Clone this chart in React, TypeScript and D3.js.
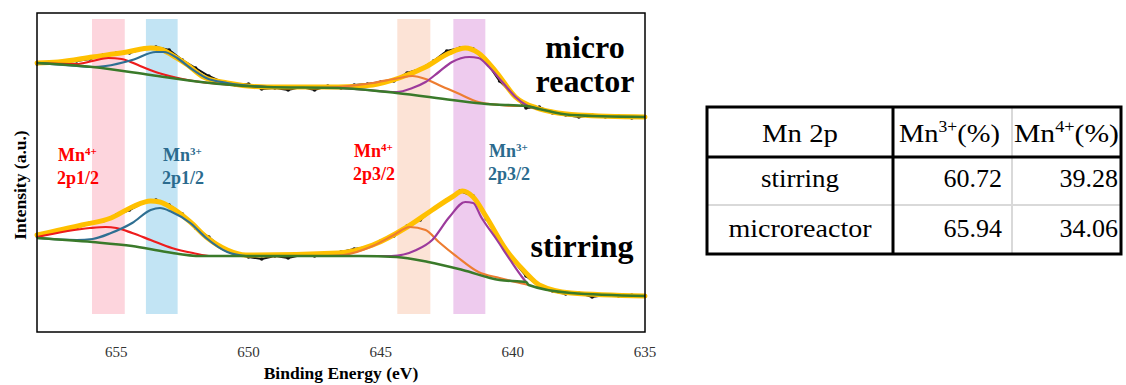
import React, { useRef, useEffect } from 'react';
import * as d3 from 'd3';

type Pt = [number, number]; // [binding energy (eV), intensity (a.u.)]

// ---- data ----
const energyTicks = [655, 650, 645, 640, 635];

// highlighted peak positions [from eV, to eV]
const bandRanges: Pt[] = [[655.92, 654.68], [653.88, 652.68], [644.37, 643.12], [642.25, 641.04]];

// micro reactor spectrum (upper)
const microRaw: Pt[] = [[658, 268], [657.5, 270], [657, 270], [656.5, 271], [656, 273], [655.5, 277], [655, 279], [654.5, 279], [654, 283], [653.5, 285], [653, 282], [652.5, 272], [652, 264], [651.5, 256], [651, 250], [650.5, 247], [650, 248], [649.5, 243], [649, 244], [648.5, 242], [648, 245], [647.5, 242], [647, 246], [646.5, 244], [646, 247], [645.5, 248], [645, 250], [644.5, 251], [644, 259], [643.5, 263], [643, 271], [642.5, 281], [642, 284], [641.5, 283], [641, 270], [640.5, 251], [640, 238], [639.5, 224], [639, 225], [638.5, 219], [638, 217], [637.5, 215], [637, 217], [636.5, 215], [636, 216], [635.5, 214], [635, 215]];
const microFit: Pt[] = [[658, 269], [657.2, 270], [655.9, 275], [654.6, 280], [653.7, 284], [653.35, 283], [652.9, 277], [652.3, 267], [651.7, 255], [650.8, 249], [649.3, 245], [646.6, 245], [645.3, 247], [644.3, 254], [643.3, 265], [642.4, 279], [641.8, 284], [641.3, 279], [640.6, 259], [639.9, 235], [639.1, 224], [638.5, 220], [637.5, 217], [635, 215]];
const microBg: Pt[] = [[658, 269], [655.9, 265], [653.7, 257], [651.8, 250], [650.6, 247], [649.3, 245], [646.6, 244], [644.4, 239], [642.3, 232], [641.0, 228], [639.5, 226], [639.0, 223], [637.8, 217], [635, 215]];
const microMn4p1: Pt[] = [[658, 269], [656.5, 268], [655.9, 271], [655.3, 274], [654.8, 273], [654.1, 266], [653.4, 259], [652.5, 253], [651.8, 250], [650.6, 247], [649.3, 245]];
const microMn3p1: Pt[] = [[658, 269], [656.5, 266], [655.9, 265], [655.4, 266], [654.4, 272], [653.5, 280], [653.2, 280], [652.7, 274], [652.2, 264], [651.6, 254], [650.8, 249], [649.3, 245]];
const microMn4p3: Pt[] = [[647.5, 244], [646.6, 245], [645.3, 249], [644.3, 254], [643.8, 256], [643.3, 253], [642.8, 247], [642.1, 239], [641.3, 230], [640.5, 227], [639.8, 226], [639.5, 226]];
const microMn3p3: Pt[] = [[646.5, 244], [645.5, 242], [644.4, 240], [643.8, 244], [643.3, 250], [642.8, 260], [642.3, 270], [641.65, 275], [641.3, 274], [640.9, 265], [640.4, 250], [639.9, 235], [639.5, 227], [639.0, 223]];

// stirring spectrum (lower)
const stirRaw: Pt[] = [[658, 96], [657.5, 99], [657, 103], [656.5, 104], [656, 109], [655.5, 111], [655, 117], [654.5, 122], [654, 129], [653.5, 132], [653, 127], [652.5, 118], [652, 104], [651.5, 95], [651, 84], [650.5, 78], [650, 75], [649.5, 73], [649, 76], [648.5, 74], [648, 77], [647.5, 76], [647, 78], [646.5, 80], [646, 83], [645.5, 85], [645, 91], [644.5, 96], [644, 106], [643.5, 112], [643, 123], [642.5, 132], [642, 141], [641.5, 136], [641, 113], [640.5, 92], [640, 72], [639.5, 56], [639, 46], [638.5, 41], [638, 38], [637.5, 39], [637, 35], [636.5, 37], [636, 36], [635.5, 37], [635, 36]];
const stirFit: Pt[] = [[658, 97], [656.3, 107], [655.2, 114], [654.4, 125], [653.7, 131], [653.35, 130], [652.9, 124], [652.2, 110], [651.6, 95], [650.8, 82], [650.1, 77], [646.6, 79], [645.3, 87], [644.0, 105], [643.05, 122], [642.3, 135], [641.9, 141], [641.5, 135], [641.0, 115], [640.25, 82], [639.5, 59], [639.0, 47], [637.8, 39], [635, 36]];
const stirBg: Pt[] = [[658, 94], [655.9, 90], [654.4, 86], [653.1, 80], [651.8, 76], [650.6, 76], [645.8, 76], [644.4, 75], [643.2, 70], [641.9, 62], [640.5, 52], [639.5, 50], [639.4, 47], [637.8, 39], [635, 36]];
const stirMn4p1: Pt[] = [[658, 95], [656.0, 104], [655.4, 105], [655.0, 104], [654.4, 99], [653.7, 92], [652.9, 84], [652.1, 79], [651.4, 76], [650.6, 76]];
const stirMn3p1: Pt[] = [[658, 94], [656.5, 92], [655.9, 93], [655.2, 99], [654.4, 109], [653.7, 122], [653.35, 124], [652.9, 120], [652.2, 109], [651.6, 94], [650.8, 80], [650.1, 76]];
const stirMn4p3: Pt[] = [[647, 76], [646.4, 77], [645.3, 86], [644.5, 97], [643.9, 105], [643.3, 102], [642.8, 90], [642.1, 75], [641.3, 60], [640.5, 54], [639.9, 50], [639.4, 47]];
const stirMn3p3: Pt[] = [[645.5, 76], [644.6, 76], [643.65, 82], [643.05, 92], [642.4, 115], [641.8, 130], [641.5, 129], [641.2, 115], [640.6, 92], [640.1, 72], [639.65, 55], [639.5, 50]];

// table
const tableSamples = ['stirring', 'microreactor'];
const mn3Percent = ['60.72', '65.94'];
const mn4Percent = ['39.28', '34.06'];

const SERIF = "'Liberation Serif', 'Times New Roman', serif";
const bandColors = ['#fdd5dd', '#c2e4f4', '#fce3d6', '#eecbee'];
const RED = '#ff0000';
const TEAL = '#2b6b8e';

const XpsChart: React.FC = () => {
  const svgRef = useRef<SVGSVGElement>(null);

  useEffect(() => {
    if (!svgRef.current) return;
    const svg = d3.select(svgRef.current);
    svg.selectAll('*').remove();

    const left = 37, right = 645, top = 13, bottom = 332;
    const x = d3.scaleLinear().domain([658, 635]).range([left, right]);
    const y = d3.scaleLinear().domain([0, 320]).range([bottom, top - 1]);

    // colour bands
    svg.append('g').selectAll('rect')
      .data(bandRanges)
      .enter().append('rect')
      .attr('x', d => x(d[0]))
      .attr('width', d => x(d[1]) - x(d[0]))
      .attr('y', y(313))
      .attr('height', y(18) - y(313))
      .attr('fill', (d, i) => bandColors[i]);

    const line = d3.line<Pt>()
      .x(d => x(d[0]))
      .y(d => y(d[1]))
      .curve(d3.curveMonotoneX);

    const drawSpectrum = (raw: Pt[], fit: Pt[], bg: Pt[], comps: { pts: Pt[]; color: string }[]) => {
      const g = svg.append('g');
      g.append('path').datum(raw)
        .attr('fill', 'none').attr('stroke', '#111').attr('stroke-width', 2)
        .attr('d', d3.line<Pt>().x(d => x(d[0])).y(d => y(d[1])));
      g.selectAll('circle').data(raw).enter().append('circle')
        .attr('cx', d => x(d[0])).attr('cy', d => y(d[1])).attr('r', 1.8).attr('fill', '#111');
      g.append('path').datum(fit)
        .attr('fill', 'none').attr('stroke', '#ffc000').attr('stroke-width', 5)
        .attr('stroke-linecap', 'round').attr('d', line);
      comps.forEach(c => {
        g.append('path').datum(c.pts)
          .attr('fill', 'none').attr('stroke', c.color).attr('stroke-width', 2.2)
          .attr('d', line);
      });
      g.append('path').datum(bg)
        .attr('fill', 'none').attr('stroke', '#3a7a2a').attr('stroke-width', 2.5)
        .attr('d', line);
    };

    drawSpectrum(microRaw, microFit, microBg, [
      { pts: microMn4p1, color: '#ee1c1c' },
      { pts: microMn3p1, color: '#2f6f92' },
      { pts: microMn4p3, color: '#ed7d31' },
      { pts: microMn3p3, color: '#9c3a9c' },
    ]);
    drawSpectrum(stirRaw, stirFit, stirBg, [
      { pts: stirMn4p1, color: '#ee1c1c' },
      { pts: stirMn3p1, color: '#2f6f92' },
      { pts: stirMn4p3, color: '#ed7d31' },
      { pts: stirMn3p3, color: '#9c3a9c' },
    ]);

    // frame
    svg.append('rect')
      .attr('x', left).attr('y', top)
      .attr('width', right - left).attr('height', bottom - top)
      .attr('fill', 'none').attr('stroke', '#000').attr('stroke-width', 1.5);

    // x tick labels
    svg.append('g').selectAll('text')
      .data(energyTicks)
      .enter().append('text')
      .attr('x', d => x(d))
      .attr('y', 357)
      .attr('text-anchor', 'middle')
      .attr('font-family', SERIF)
      .attr('font-size', 15)
      .attr('fill', '#333')
      .text(d => d);

    // axis titles
    svg.append('text')
      .attr('x', 341).attr('y', 379)
      .attr('text-anchor', 'middle')
      .attr('font-family', SERIF).attr('font-size', 17.5).attr('font-weight', 'bold')
      .text('Binding Energy (eV)');
    svg.append('text')
      .attr('transform', 'translate(26,185) rotate(-90)')
      .attr('text-anchor', 'middle')
      .attr('font-family', SERIF).attr('font-size', 17.5).attr('font-weight', 'bold')
      .text('Intensity (a.u.)');

    // peak labels
    const peakLabel = (px: number, by: number, charge: string, orbital: string, color: string) => {
      const t = svg.append('text')
        .attr('x', px).attr('y', by)
        .attr('font-family', SERIF).attr('font-size', 18).attr('font-weight', 'bold')
        .attr('fill', color);
      t.append('tspan').text('Mn');
      t.append('tspan').attr('dy', -6).attr('font-size', 11).text(charge);
      svg.append('text')
        .attr('x', px - 1).attr('y', by + 23)
        .attr('font-family', SERIF).attr('font-size', 18).attr('font-weight', 'bold')
        .attr('fill', color)
        .text(orbital);
    };
    peakLabel(58, 161, '4+', '2p1/2', RED);
    peakLabel(163, 161, '3+', '2p1/2', TEAL);
    peakLabel(354, 157, '4+', '2p3/2', RED);
    peakLabel(489, 157, '3+', '2p3/2', TEAL);

    // sample names
    const big = (tx: number, ty: number, s: string) => svg.append('text')
      .attr('x', tx).attr('y', ty).attr('text-anchor', 'middle')
      .attr('font-family', SERIF).attr('font-size', 32).attr('font-weight', 'bold')
      .text(s);
    big(585, 58, 'micro');
    big(585, 92, 'reactor');
    big(582, 257, 'stirring');

    // ---- table ----
    const tl = 707, tr = 1121, tt = 107, tb = 254, colA = 893, colB = 1012, rowA = 157, rowB = 205;
    const tg = svg.append('g');
    tg.append('line').attr('x1', colB).attr('x2', colB).attr('y1', tt).attr('y2', tb)
      .attr('stroke', '#d9d9d9').attr('stroke-width', 2);
    tg.append('line').attr('x1', tl).attr('x2', tr).attr('y1', rowB).attr('y2', rowB)
      .attr('stroke', '#d9d9d9').attr('stroke-width', 2);
    tg.append('rect').attr('x', tl).attr('y', tt).attr('width', tr - tl).attr('height', tb - tt)
      .attr('fill', 'none').attr('stroke', '#000').attr('stroke-width', 3);
    tg.append('line').attr('x1', tl).attr('x2', tr).attr('y1', rowA).attr('y2', rowA)
      .attr('stroke', '#000').attr('stroke-width', 3);
    tg.append('line').attr('x1', colA).attr('x2', colA).attr('y1', tt).attr('y2', tb)
      .attr('stroke', '#000').attr('stroke-width', 3);

    const cellText = (tx: number, ty: number, anchor: string) => tg.append('text')
      .attr('x', tx).attr('y', ty).attr('text-anchor', anchor)
      .attr('font-family', SERIF).attr('font-size', 26).attr('fill', '#000');

    // the table text is slightly widened in the picture
    cellText(800, 142, 'middle').attr('textLength', 76).attr('lengthAdjust', 'spacingAndGlyphs').text('Mn 2p');
    const hdr = (tx: number, sup: string, w: number) => {
      const t = cellText(tx, 142, 'start')
        .attr('textLength', w).attr('lengthAdjust', 'spacingAndGlyphs');
      t.append('tspan').text('Mn');
      t.append('tspan').attr('dy', -10).attr('font-size', 16).text(sup);
      t.append('tspan').attr('dy', 10).text('(%)');
    };
    hdr(899, '3+', 101);
    hdr(1014, '4+', 105);

    const rowBase = [187, 237];
    const nameWidth = [78, 143];
    tableSamples.forEach((s, i) => {
      cellText(800, rowBase[i], 'middle')
        .attr('textLength', nameWidth[i]).attr('lengthAdjust', 'spacingAndGlyphs').text(s);
      cellText(1002, rowBase[i], 'end').text(mn3Percent[i]);
      cellText(1118, rowBase[i], 'end').text(mn4Percent[i]);
    });
  }, []);

  return (
    <svg ref={svgRef} width={1126} height={385}
      style={{ position: 'absolute', left: 0, top: 0, background: '#fff' }} />
  );
};

export default function App() {
  return <XpsChart />;
}
